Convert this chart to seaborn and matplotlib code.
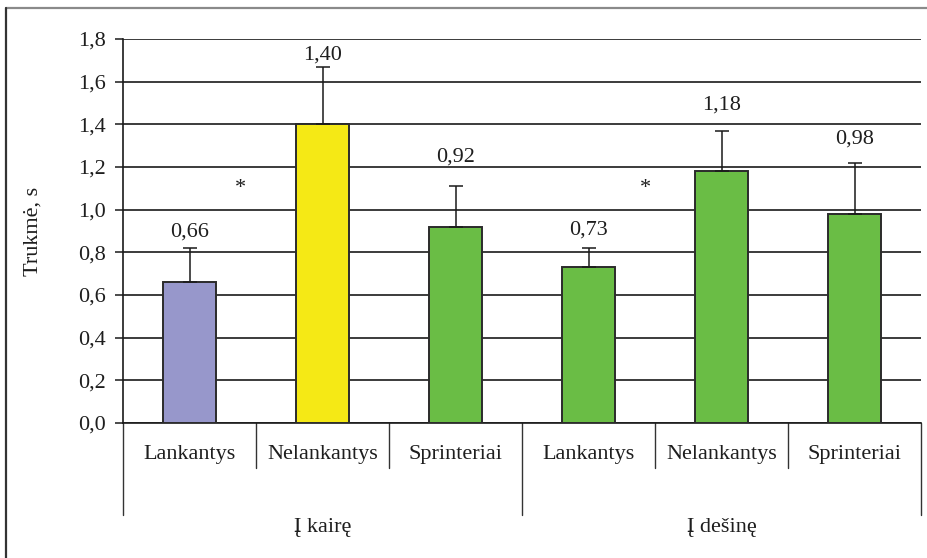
import matplotlib
matplotlib.use("Agg")
import matplotlib.pyplot as plt
from matplotlib.lines import Line2D
import matplotlib.transforms as mtransforms
import seaborn as sns
import pandas as pd

# Data
groups = ["Į kairę", "Į dešinę"]
athletes = ["Lankantys", "Nelankantys", "Sprinteriai"]
means = [0.66, 1.40, 0.92, 0.73, 1.18, 0.98]
sd = [0.16, 0.27, 0.19, 0.09, 0.19, 0.24]
value_labels = ["0,66", "1,40", "0,92", "0,73", "1,18", "0,98"]
y_ticks = [0.0, 0.2, 0.4, 0.6, 0.8, 1.0, 1.2, 1.4, 1.6, 1.8]
y_label = "Trukmė, s"
# significance marks: (position between bars, height)
stars = [(0.38, 1.10), (3.43, 1.10)]

# Style
bar_colors = ["#9797cb", "#f5e915", "#6abd45", "#6abd45", "#6abd45", "#6abd45"]
label_lift_px = [16, 12, 29, 18, 26, 24]
FS = 16
TXT = "#1e1e1e"

sns.set_theme(style="white")
plt.rcParams["font.family"] = ["Liberation Serif"]

keys = [f"{g}|{a}" for g in groups for a in athletes]
df = pd.DataFrame({"bar": keys, "mean": means})

fig = plt.figure(figsize=(9.27, 5.58), dpi=100)
ax = fig.add_axes([123 / 927, 1 - 423 / 558, 798 / 927, 384 / 558])

sns.barplot(data=df, x="bar", y="mean", hue="bar", palette=bar_colors,
            saturation=1, legend=False, errorbar=None, width=0.40,
            edgecolor="#2b2b2b", linewidth=1.4, ax=ax, zorder=3)

xs = list(range(len(means)))
ax.errorbar(xs, means, yerr=[[0] * len(sd), sd], fmt="none", ecolor="#1a1a1a",
            elinewidth=1.1, capsize=5, capthick=1.1, zorder=4)

for x, m, s, lab, lift in zip(xs, means, sd, value_labels, label_lift_px):
    ax.annotate(lab, xy=(x, m + s), xytext=(0, lift), textcoords="offset pixels",
                ha="center", va="center", fontsize=FS, color=TXT)

for sx, sy in stars:
    ax.text(sx, sy, "*", ha="center", va="center", fontsize=FS, color=TXT)

ax.set_xlim(-0.5, len(means) - 0.5)
ax.set_ylim(0, 1.8)
ax.set_yticks(y_ticks)
ax.set_yticklabels([f"{t:.1f}".replace(".", ",") for t in y_ticks], fontsize=FS,
                   color=TXT)
ax.yaxis.grid(True, color="#1a1a1a", linewidth=1.2, zorder=0)
ax.set_axisbelow(True)
ax.tick_params(axis="y", direction="out", length=6, width=1.1, pad=6,
               color="#1a1a1a", left=True)
ax.set_xticks([])
ax.set_xlabel("")
ax.set_ylabel(y_label, fontsize=FS, color=TXT, labelpad=26)
for side in ["top", "right"]:
    ax.spines[side].set_visible(False)
for side in ["left", "bottom"]:
    ax.spines[side].set_color("#1a1a1a")
    ax.spines[side].set_linewidth(1.2)

# Two-level category axis below the bars
trans = mtransforms.blended_transform_factory(ax.transData, ax.transAxes)
n_per = len(athletes)
for b in range(len(means) + 1):
    depth = -0.240 if b % n_per == 0 else -0.117
    ax.add_line(Line2D([b - 0.5, b - 0.5], [0, depth], transform=trans,
                       color="#333333", linewidth=1.0, clip_on=False))
for x, k in zip(xs, keys):
    ax.text(x, -0.081, k.split("|")[1], transform=trans, ha="center", va="center",
            fontsize=FS, color=TXT)
for gi, g in enumerate(groups):
    ax.text(gi * n_per + (n_per - 1) / 2, -0.272, g, transform=trans,
            ha="center", va="center", fontsize=FS, color=TXT)

# Outer frame lines
fig.add_artist(Line2D([6 / 927, 1], [1 - 8 / 558, 1 - 8 / 558],
                      transform=fig.transFigure, color="#8a8a8a", linewidth=1.6))
fig.add_artist(Line2D([6 / 927, 6 / 927], [0, 1 - 8 / 558],
                      transform=fig.transFigure, color="#333333", linewidth=1.6))

fig.savefig("out.png", dpi=100)
